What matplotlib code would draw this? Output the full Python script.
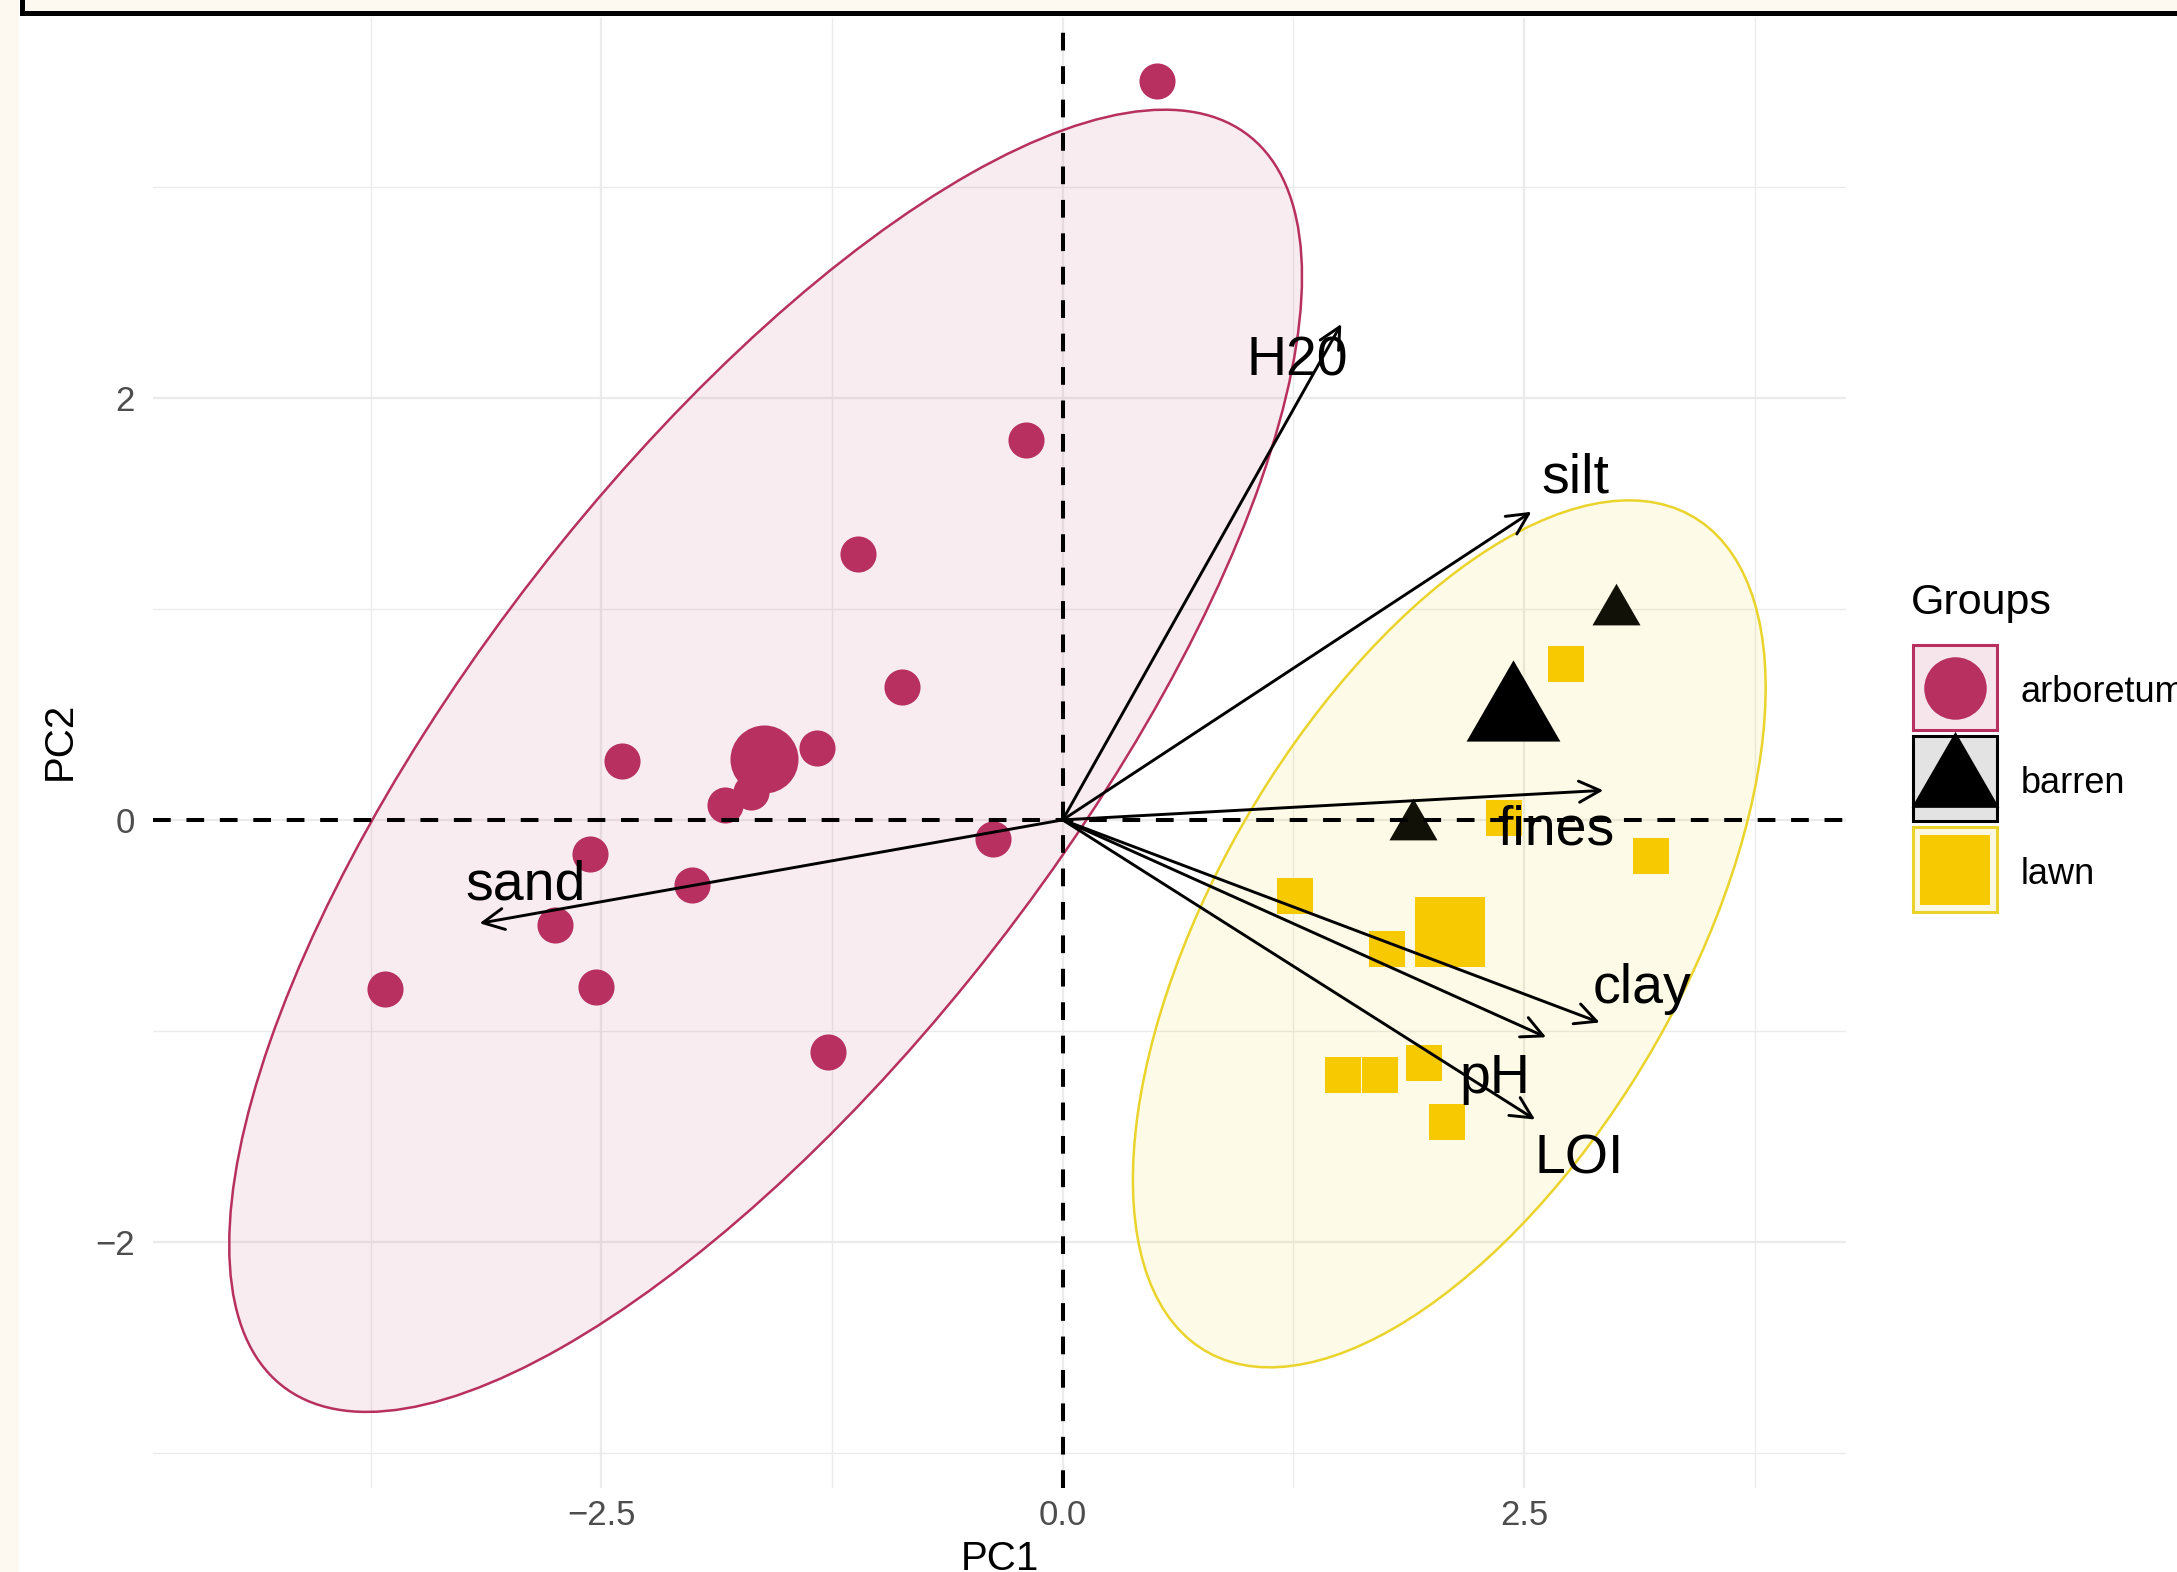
import numpy as np
import matplotlib.pyplot as plt
from matplotlib.patches import Ellipse, Rectangle

plt.rcParams["font.family"] = ["Liberation Sans", "DejaVu Sans"]

# ---- data ----
arb_x = [0.51, -0.20, -1.11, -0.87, -2.39, -1.33, -1.83, -1.69, -2.56, -2.01, -0.38, -2.75, -2.53, -3.67, -1.27]
arb_y = [3.50, 1.80, 1.26, 0.63, 0.28, 0.34, 0.07, 0.13, -0.16, -0.31, -0.09, -0.50, -0.79, -0.80, -1.10]
barren_x = [3.00, 1.90, 2.42]
barren_y = [0.99, -0.03, 0.54]
lawn_x = [2.73, 2.39, 3.19, 1.26, 1.76, 1.52, 1.72, 1.96, 2.08]
lawn_y = [0.74, 0.01, -0.17, -0.36, -0.61, -1.21, -1.21, -1.15, -1.43]

groups = ["arboretum", "barren", "lawn"]
centroid_x = [-1.62, 2.44, 2.10]
centroid_y = [0.29, 0.50, -0.53]

# confidence ellipses (centre + covariance shape)
arb_ell_center = [-1.61, 0.28]
arb_ell_cov = [[8.45, 6.67], [6.67, 9.52]]
lawn_ell_center = [2.095, -0.54]
lawn_ell_cov = [[2.94, 2.00], [2.00, 4.22]]

# variable loadings
var_names = ["H20", "silt", "fines", "clay", "pH", "LOI", "sand"]
load_x = [1.51, 2.54, 2.93, 2.91, 2.62, 2.56, -3.16]
load_y = [2.35, 1.46, 0.14, -0.96, -1.03, -1.42, -0.49]
label_x = [1.27, 2.78, 2.67, 3.14, 2.34, 2.80, -2.91]
label_y = [2.17, 1.62, -0.05, -0.80, -1.23, -1.61, -0.31]

x_major = [-2.5, 0.0, 2.5]
x_minor = [-3.75, -1.25, 1.25, 3.75]
y_major = [-2, 0, 2]
y_minor = [-3, -1, 1, 3]

# ---- styling ----
CRIMSON = "#B7305F"
GOLD = "#F6C900"
BARREN = "#111108"
CREAM = "#FDF9F0"
W, H = 2177, 1572

# equilateral triangle marker (ggplot shape 17)
TRI = [(0, 1), (-0.866, -0.5), (0.866, -0.5)]


def ellipse_patch(center, cov, **kw):
    """Ellipse patch from centre and covariance matrix"""
    vals, vecs = np.linalg.eigh(np.array(cov))
    order = vals.argsort()[::-1]
    vals, vecs = vals[order], vecs[:, order]
    angle = np.degrees(np.arctan2(vecs[1, 0], vecs[0, 0]))
    return Ellipse(center, 2 * np.sqrt(vals[0]), 2 * np.sqrt(vals[1]), angle=angle, **kw)


fig = plt.figure(figsize=(W / 100, H / 100), dpi=100)
fig.patch.set_facecolor("white")

ax = fig.add_axes([153 / W, 1 - 1488 / H, (1846 - 153) / W, (1488 - 18) / H])
ax.set_xlim(-4.93, 4.245)
ax.set_ylim(-3.166, 3.80)
for s in ax.spines.values():
    s.set_visible(False)

ax.set_xticks(x_major)
ax.set_xticks(x_minor, minor=True)
ax.set_yticks(y_major)
ax.set_yticks(y_minor, minor=True)
ax.set_xticklabels(["\u22122.5", "0.0", "2.5"])
ax.set_yticklabels(["\u22122", "0", "2"])
ax.tick_params(which="both", length=0)
ax.tick_params(axis="x", pad=8, labelsize=25, labelcolor="#4D4D4D")
ax.tick_params(axis="y", pad=13, labelsize=25, labelcolor="#4D4D4D")
ax.grid(which="major", color="#EBEBEB", lw=1.6)
ax.grid(which="minor", color="#EBEBEB", lw=1.0)
ax.set_axisbelow(True)

# ellipses
ax.add_patch(ellipse_patch(arb_ell_center, arb_ell_cov, fc=CRIMSON, alpha=0.09, ec="none", zorder=1))
ax.add_patch(ellipse_patch(arb_ell_center, arb_ell_cov, fc="none", ec=CRIMSON, lw=1.8, zorder=2))
ax.add_patch(ellipse_patch(lawn_ell_center, lawn_ell_cov, fc=GOLD, alpha=0.09, ec="none", zorder=1))
ax.add_patch(ellipse_patch(lawn_ell_center, lawn_ell_cov, fc="none", ec="#EAD42C", lw=1.8, zorder=2))

# points
ax.scatter(arb_x, arb_y, s=26 ** 2, marker="o", color=CRIMSON, lw=0, zorder=3)
ax.scatter(lawn_x, lawn_y, s=26 ** 2, marker="s", color=GOLD, lw=0, zorder=3)
ax.scatter(barren_x, barren_y, s=40 ** 2, marker=TRI, color=BARREN, lw=0, zorder=3)
ax.scatter(centroid_x[0], centroid_y[0], s=49 ** 2, marker="o", color=CRIMSON, lw=0, zorder=3)
ax.scatter(centroid_x[1], centroid_y[1], s=78 ** 2, marker=TRI, color="black", lw=0, zorder=3)
ax.scatter(centroid_x[2], centroid_y[2], s=50 ** 2, marker="s", color=GOLD, lw=0, zorder=3)

# reference lines
ax.axhline(0, color="black", lw=2.9, ls=(0, (4.4, 3.9)), zorder=4)
ax.axvline(0, color="black", lw=2.9, ls=(0, (4.4, 3.9)), zorder=4)

# loading arrows and labels
for name, lx, ly, tx, ty in zip(var_names, load_x, load_y, label_x, label_y):
    ax.annotate("", xy=(lx, ly), xytext=(0, 0),
                arrowprops=dict(arrowstyle="->", lw=2.1, color="black",
                                shrinkA=0, shrinkB=0, mutation_scale=38),
                zorder=5)
    ax.text(tx, ty, name, fontsize=40, ha="center", va="center", zorder=6)

ax.set_xlabel("PC1", fontsize=29)
ax.set_ylabel("PC2", fontsize=29)
ax.xaxis.set_label_coords(0.5, -(1540 - 1488) / 1470)
ax.yaxis.set_label_coords((79 - 153) / 1693, 0.508)

# ---- overlay: legend and page frame (pixel coordinates) ----
ov = fig.add_axes([0, 0, 1, 1])
ov.set_xlim(0, W)
ov.set_ylim(H, 0)
ov.axis("off")
ov.patch.set_alpha(0)

ov.add_patch(Rectangle((0, 0), 19, H, fc=CREAM, ec="none"))
ov.add_patch(Rectangle((21.5, -60), W + 100, 72.5, fc=CREAM, ec="black", lw=3.6))

ov.text(1911, 603, "Groups", fontsize=31, ha="left", va="center")
key_top = [645, 736, 827]
key_fill = ["#F6E6EC", "#E3E3E3", "#FDF8E2"]
key_edge = [CRIMSON, "black", "#EAD42C"]
key_marker = ["o", TRI, "s"]
key_size = [45, 73, 50]
key_color = [CRIMSON, "black", GOLD]
for i, g in enumerate(groups):
    ov.add_patch(Rectangle((1913, key_top[i]), 84, 85, fc=key_fill[i], ec=key_edge[i], lw=2.2))
for i, g in enumerate(groups):
    cy = key_top[i] + 42.5
    ov.scatter(1955, cy + (3 if key_marker[i] is TRI else 0), s=key_size[i] ** 2,
               marker=key_marker[i], color=key_color[i], lw=0)
    ov.text(2021, cy + 5, g, fontsize=26, ha="left", va="center")

fig.savefig("out.png", dpi=100)
